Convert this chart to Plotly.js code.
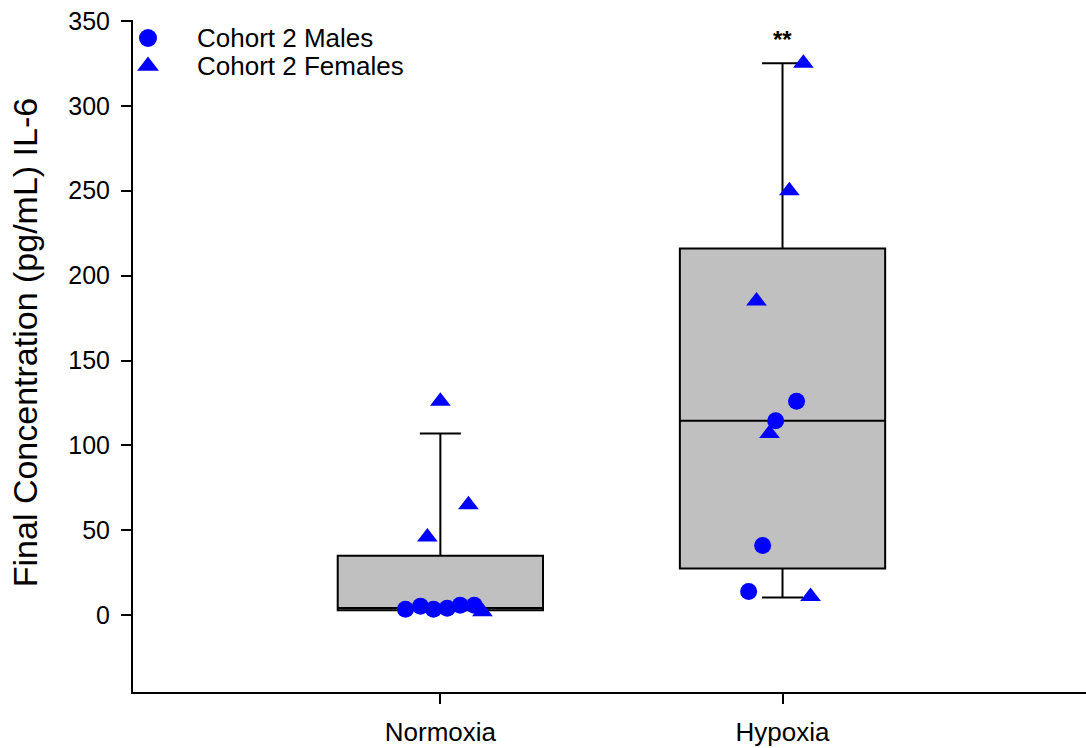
<!DOCTYPE html>
<html>
<head>
<meta charset="utf-8">
<script src="https://cdn.plot.ly/plotly-3.0.1.min.js"></script>
<style>html,body{margin:0;padding:0;background:#fff;}#chart{width:1086px;height:748px;}</style>
</head>
<body>
<div id="chart"></div>
<script>
// Categories and positions
const categories = ["Normoxia", "Hypoxia"];
const catPos = [1, 2];

// Box summary statistics
const q1 = [3.0, 27.5];
const median = [4.2, 114.5];
const q3 = [35, 216];
const lowerWhisker = [3, 10.5];
const upperWhisker = [107, 325];

// Cohort 2 Males (circles): jitter offset from category center and value
const maleNormoxiaOffset = [-0.102, -0.058, -0.020, 0.020, 0.058, 0.099];
const maleNormoxiaValue = [3.5, 5.3, 3.5, 4.1, 5.9, 5.9];
const maleHypoxiaOffset = [0.041, -0.020, -0.058, -0.099];
const maleHypoxiaValue = [126, 114.5, 41, 14];

// Cohort 2 Females (triangles)
const femaleNormoxiaOffset = [0, 0.082, -0.038, 0.123];
const femaleNormoxiaValue = [126, 65, 46, 2];
const femaleHypoxiaOffset = [0.061, 0.020, -0.076, -0.038, 0.082];
const femaleHypoxiaValue = [325, 250, 185, 107, 11];

// Y ticks, labels
const yTicks = [0, 50, 100, 150, 200, 250, 300, 350];
const yTitle = "Final Concentration (pg/mL) IL-6";
const sigLabel = "**";
const seriesNames = ["Cohort 2 Males", "Cohort 2 Females"];
const seriesSymbols = ["circle", "triangle-up"];

const fontFam = "Liberation Sans, Arial, sans-serif";
const blue = "#0000ff";

const boxTrace = {
  type: "box",
  x: catPos,
  q1: q1, median: median, q3: q3,
  lowerfence: lowerWhisker, upperfence: upperWhisker,
  width: 0.6,
  whiskerwidth: 0.2,
  fillcolor: "#c0c0c0",
  line: {color: "#000000", width: 2},
  showlegend: false,
  hoverinfo: "skip"
};

const maleX = maleNormoxiaOffset.map(o => catPos[0] + o).concat(maleHypoxiaOffset.map(o => catPos[1] + o));
const maleY = maleNormoxiaValue.concat(maleHypoxiaValue);
const femaleX = femaleNormoxiaOffset.map(o => catPos[0] + o).concat(femaleHypoxiaOffset.map(o => catPos[1] + o));
const femaleY = femaleNormoxiaValue.concat(femaleHypoxiaValue);

const males = {
  type: "scatter", mode: "markers", name: seriesNames[0],
  x: maleX, y: maleY, showlegend: false,
  marker: {symbol: seriesSymbols[0], size: 17, color: blue, opacity: 1, line: {width: 0}}
};
const females = {
  type: "scatter", mode: "markers", name: seriesNames[1],
  x: femaleX, y: femaleY, showlegend: false,
  marker: {symbol: seriesSymbols[1], size: 18, color: blue, opacity: 1, line: {width: 0}}
};

// Custom legend drawn on an overlay axis measured in page pixels
const legX = 148, legTextX = 195, legRows = [38, 66];
const legendMarks = {
  type: "scatter", mode: "markers", xaxis: "x2", yaxis: "y2",
  x: [legX, legX], y: legRows, showlegend: false, hoverinfo: "skip",
  marker: {symbol: seriesSymbols, size: [18, 19], color: blue, opacity: 1, line: {width: 0}}
};
const legendText = seriesNames.map((n, i) => ({
  x: legTextX, y: legRows[i], xref: "x2", yref: "y2",
  xanchor: "left", yanchor: "middle", showarrow: false, text: n,
  font: {size: 26, family: fontFam, color: "#000"}
}));

const layout = {
  width: 1086, height: 748,
  margin: {l: 133, r: 0, t: 20, b: 56},
  paper_bgcolor: "#ffffff",
  plot_bgcolor: "#ffffff",
  font: {family: fontFam, color: "#000000", size: 24},
  showlegend: false,
  xaxis: {
    range: [0.1017, 2.887],
    tickmode: "array", tickvals: catPos, ticktext: categories,
    ticks: "outside", ticklen: 10, tickwidth: 2, tickcolor: "#000",
    showline: true, linecolor: "#000", linewidth: 2,
    showgrid: false, zeroline: false,
    ticklabelstandoff: 6,
    tickfont: {size: 26, family: fontFam}
  },
  yaxis: {
    range: [-45.2, 350.5],
    tickmode: "array", tickvals: yTicks,
    ticks: "outside", ticklen: 10, tickwidth: 2, tickcolor: "#000",
    showline: true, linecolor: "#000", linewidth: 2,
    showgrid: false, zeroline: false,
    ticklabelstandoff: 6,
    tickfont: {size: 25, family: fontFam}
  },
  xaxis2: {overlaying: "x", range: [133, 1086], visible: false, fixedrange: true},
  yaxis2: {overlaying: "y", range: [692, 20], visible: false, fixedrange: true},
  annotations: [{
    x: catPos[1], y: 339, xref: "x", yref: "y",
    text: "<b>" + sigLabel + "</b>", showarrow: false,
    font: {size: 24, family: fontFam, color: "#000"}
  }, {
    x: -0.1133, y: 0.519, xref: "paper", yref: "paper",
    xanchor: "center", yanchor: "middle",
    text: yTitle, textangle: -90, showarrow: false,
    font: {size: 34, family: fontFam, color: "#000"}
  }].concat(legendText)
};

Plotly.newPlot("chart", [boxTrace, males, females, legendMarks], layout, {displayModeBar: false, staticPlot: true});
</script>
</body>
</html>
